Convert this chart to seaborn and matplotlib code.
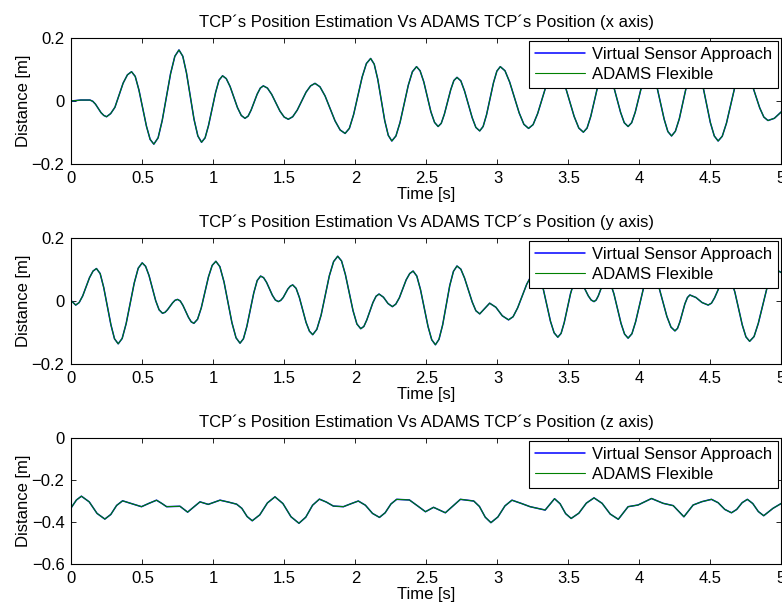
"""
Estimación de la posición del TCP vs posición ADAMS (ejes x, y, z)
"""
import matplotlib
matplotlib.use('Agg')
import matplotlib.pyplot as plt
import seaborn as sns

# Datos (las dos series coinciden a escala de píxel)
# una línea por semiciclo
t_x = [0.0, 0.065, 0.13,
       0.150, 0.169, 0.208, 0.228, 0.247,
       0.276, 0.306, 0.364, 0.394, 0.423,
       0.449, 0.475, 0.528, 0.554, 0.58,
       0.610, 0.639, 0.698, 0.728, 0.757,
       0.784, 0.81, 0.863, 0.890, 0.916,
       0.941, 0.965, 1.015, 1.039, 1.064,
       1.090, 1.117, 1.169, 1.196, 1.222,
       1.244, 1.265, 1.308, 1.330, 1.351,
       1.380, 1.41, 1.468, 1.498, 1.527,
       1.558, 1.59, 1.652, 1.684, 1.715,
       1.750, 1.786, 1.856, 1.892, 1.927,
       1.957, 1.987, 2.047, 2.077, 2.107,
       2.132, 2.157, 2.206, 2.231, 2.256,
       2.285, 2.314, 2.372, 2.401, 2.43,
       2.455, 2.481, 2.531, 2.557, 2.582,
       2.604, 2.626, 2.671, 2.693, 2.715,
       2.742, 2.768, 2.822, 2.848, 2.875,
       2.899, 2.923, 2.972, 2.996, 3.02,
       3.053, 3.086, 3.153, 3.186, 3.219,
       3.251, 3.283, 3.346, 3.378, 3.41,
       3.443, 3.475, 3.54, 3.573, 3.605,
       3.631, 3.657, 3.708, 3.734, 3.76,
       3.787, 3.813, 3.867, 3.893, 3.92,
       3.945, 3.97, 4.02, 4.045, 4.07,
       4.096, 4.122, 4.174, 4.200, 4.226,
       4.253, 4.281, 4.335, 4.363, 4.39,
       4.417, 4.445, 4.499, 4.527, 4.554,
       4.583, 4.613, 4.671, 4.701, 4.73,
       4.759, 4.788, 4.847, 4.876, 4.905,
       4.95, 5.0]
pos_x = [0.0, 0.003, 0.003,
         -0.001, -0.010, -0.037, -0.046, -0.050,
         -0.040, -0.020, 0.057, 0.083, 0.093,
         0.078, 0.035, -0.080, -0.122, -0.137,
         -0.117, -0.062, 0.087, 0.142, 0.162,
         0.142, 0.089, -0.058, -0.111, -0.131,
         -0.117, -0.078, 0.027, 0.066, 0.080,
         0.071, 0.046, -0.021, -0.046, -0.055,
         -0.048, -0.029, 0.022, 0.041, 0.048,
         0.041, 0.021, -0.032, -0.051, -0.058,
         -0.050, -0.029, 0.028, 0.048, 0.056,
         0.045, 0.016, -0.063, -0.092, -0.103,
         -0.087, -0.043, 0.076, 0.119, 0.135,
         0.117, 0.069, -0.062, -0.109, -0.127,
         -0.111, -0.068, 0.050, 0.093, 0.109,
         0.096, 0.061, -0.034, -0.068, -0.081,
         -0.071, -0.042, 0.036, 0.065, 0.075,
         0.064, 0.032, -0.053, -0.084, -0.095,
         -0.081, -0.044, 0.058, 0.095, 0.109,
         0.096, 0.060, -0.038, -0.074, -0.087,
         -0.075, -0.040, 0.053, 0.088, 0.100,
         0.087, 0.050, -0.049, -0.086, -0.099,
         -0.086, -0.049, 0.050, 0.087, 0.100,
         0.088, 0.055, -0.036, -0.069, -0.081,
         -0.069, -0.036, 0.055, 0.088, 0.100,
         0.086, 0.047, -0.058, -0.097, -0.111,
         -0.096, -0.056, 0.055, 0.095, 0.110,
         0.094, 0.051, -0.068, -0.111, -0.127,
         -0.112, -0.070, 0.043, 0.085, 0.100,
         0.089, 0.059, -0.022, -0.051, -0.062,
         -0.055, -0.034]

t_y = [0.0, 0.03,
       0.054, 0.079, 0.127, 0.152, 0.176,
       0.202, 0.227, 0.278, 0.303, 0.329,
       0.357, 0.385, 0.442, 0.470, 0.498,
       0.522, 0.546, 0.593, 0.617, 0.641,
       0.659, 0.676, 0.712, 0.729, 0.747,
       0.766, 0.785, 0.824, 0.843, 0.862,
       0.888, 0.914, 0.965, 0.991, 1.017,
       1.045, 1.074, 1.13, 1.159, 1.187,
       1.211, 1.235, 1.284, 1.308, 1.332,
       1.353, 1.374, 1.415, 1.436, 1.457,
       1.474, 1.491, 1.524, 1.541, 1.558,
       1.582, 1.605, 1.652, 1.676, 1.699,
       1.728, 1.758, 1.816, 1.846, 1.875,
       1.902, 1.929, 1.983, 2.010, 2.037,
       2.059, 2.08, 2.123, 2.145, 2.166,
       2.197, 2.229, 2.26,
       2.284, 2.309, 2.357, 2.382, 2.406,
       2.432, 2.458, 2.511, 2.537, 2.563,
       2.588, 2.614, 2.664, 2.690, 2.715,
       2.742, 2.768, 2.822, 2.848, 2.875,
       2.91, 2.945,
       2.989, 3.034, 3.078,
       3.110, 3.142, 3.206, 3.238, 3.27,
       3.296, 3.322, 3.373, 3.399, 3.425,
       3.448, 3.47, 3.515, 3.538, 3.56,
       3.58, 3.6, 3.64, 3.66, 3.68,
       3.695, 3.71, 3.74, 3.755, 3.77,
       3.795, 3.82, 3.87, 3.895, 3.92,
       3.947, 3.973, 4.027, 4.053, 4.08,
       4.108, 4.137, 4.193, 4.222, 4.25,
       4.268, 4.285, 4.32, 4.338, 4.355,
       4.398, 4.441, 4.484,
       4.507, 4.529, 4.575, 4.597, 4.62,
       4.646, 4.672, 4.724, 4.750, 4.776,
       4.807, 4.837, 4.899, 4.929, 4.96,
       5.0]
pos_y = [0.0, -0.013,
         -0.005, 0.016, 0.074, 0.095, 0.103,
         0.087, 0.043, -0.076, -0.120, -0.136,
         -0.119, -0.072, 0.057, 0.104, 0.121,
         0.110, 0.081, 0.001, -0.028, -0.039,
         -0.036, -0.028, -0.006, 0.002, 0.005,
         0.000, -0.014, -0.052, -0.066, -0.071,
         -0.058, -0.022, 0.077, 0.113, 0.126,
         0.109, 0.061, -0.069, -0.117, -0.134,
         -0.120, -0.081, 0.026, 0.065, 0.079,
         0.074, 0.059, 0.018, 0.003, -0.002,
         0.002, 0.011, 0.038, 0.047, 0.051,
         0.040, 0.011, -0.068, -0.096, -0.107,
         -0.090, -0.045, 0.080, 0.125, 0.142,
         0.127, 0.084, -0.031, -0.073, -0.088,
         -0.081, -0.060, -0.005, 0.015, 0.022,
         0.012, -0.008, -0.018,
         -0.010, 0.010, 0.067, 0.087, 0.095,
         0.079, 0.036, -0.081, -0.123, -0.139,
         -0.122, -0.076, 0.049, 0.094, 0.111,
         0.101, 0.073, -0.003, -0.031, -0.041,
         -0.024, -0.007,
         -0.020, -0.047, -0.060,
         -0.050, -0.022, 0.053, 0.080, 0.090,
         0.076, 0.039, -0.064, -0.101, -0.115,
         -0.103, -0.069, 0.024, 0.058, 0.070,
         0.066, 0.052, 0.016, 0.003, -0.002,
         0.003, 0.016, 0.052, 0.066, 0.070,
         0.057, 0.023, -0.071, -0.105, -0.118,
         -0.104, -0.066, 0.038, 0.076, 0.090,
         0.078, 0.044, -0.049, -0.083, -0.095,
         -0.087, -0.066, -0.009, 0.011, 0.019,
         0.011, -0.005, -0.013,
         -0.007, 0.010, 0.057, 0.074, 0.080,
         0.066, 0.028, -0.076, -0.114, -0.128,
         -0.113, -0.071, 0.043, 0.085, 0.100,
         0.090]

t_z = [0.0, 0.035, 0.07, 0.125, 0.18, 0.235, 0.277, 0.318, 0.36, 0.426,
       0.493, 0.546, 0.599, 0.635, 0.67, 0.764, 0.818, 0.862, 0.905, 0.963,
       1.046, 1.105, 1.163, 1.2, 1.237, 1.273, 1.326, 1.38, 1.433, 1.489,
       1.546, 1.602, 1.65, 1.698, 1.746, 1.795, 1.844, 1.915, 1.968, 2.02,
       2.07, 2.12, 2.169, 2.209, 2.25, 2.29, 2.38, 2.437, 2.493, 2.55,
       2.633, 2.686, 2.739, 2.833, 2.873, 2.914, 2.954, 3.003, 3.053, 3.102,
       3.166, 3.23, 3.336, 3.402, 3.441, 3.48, 3.519, 3.573, 3.626, 3.68,
       3.737, 3.794, 3.851, 3.92, 3.99, 4.085, 4.167, 4.238, 4.313, 4.378,
       4.44, 4.507, 4.554, 4.601, 4.648, 4.685, 4.723, 4.76, 4.798, 4.837,
       4.875, 4.94, 5.0]
pos_z = [-0.330, -0.295, -0.277, -0.304, -0.359, -0.386, -0.364, -0.321, -0.299, -0.313,
         -0.327, -0.311, -0.296, -0.311, -0.327, -0.325, -0.353, -0.328, -0.304, -0.316,
         -0.296, -0.305, -0.315, -0.335, -0.374, -0.394, -0.366, -0.309, -0.280, -0.312,
         -0.375, -0.406, -0.377, -0.320, -0.291, -0.305, -0.324, -0.327, -0.313, -0.300,
         -0.320, -0.359, -0.378, -0.356, -0.314, -0.292, -0.295, -0.323, -0.351, -0.330,
         -0.356, -0.324, -0.292, -0.300, -0.326, -0.377, -0.403, -0.376, -0.323, -0.296,
         -0.311, -0.327, -0.343, -0.289, -0.313, -0.360, -0.383, -0.358, -0.310, -0.285,
         -0.311, -0.362, -0.387, -0.327, -0.319, -0.288, -0.311, -0.322, -0.375, -0.319,
         -0.303, -0.292, -0.308, -0.340, -0.356, -0.340, -0.308, -0.292, -0.312, -0.350,
         -0.370, -0.335, -0.311]

x_ticks = [0, 0.5, 1, 1.5, 2, 2.5, 3, 3.5, 4, 4.5, 5]
x_tick_labels = ['0', '0.5', '1', '1.5', '2', '2.5', '3', '3.5', '4', '4.5', '5']
y_ticks_xy = [-0.2, 0, 0.2]
y_labels_xy = ['\u22120.2', '0', '0.2']
y_ticks_z = [-0.6, -0.4, -0.2, 0]
y_labels_z = ['\u22120.6', '\u22120.4', '\u22120.2', '0']
axis_names = ['x axis', 'y axis', 'z axis']
series_names = ['Virtual Sensor Approach', 'ADAMS Flexible']

# Estilo tipo MATLAB
sns.set_style("ticks")
plt.rcParams['font.family'] = ['Liberation Sans', 'DejaVu Sans']
plt.rcParams['font.size'] = 12
plt.rcParams['text.color'] = 'black'
plt.rcParams['axes.labelcolor'] = 'black'
plt.rcParams['xtick.direction'] = 'in'
plt.rcParams['ytick.direction'] = 'in'
plt.rcParams['xtick.top'] = True
plt.rcParams['ytick.right'] = True
plt.rcParams['axes.linewidth'] = 0.8
plt.rcParams['axes.edgecolor'] = 'black'

fig = plt.figure(figsize=(7.82, 6.04), dpi=100)
bottoms = [0.7285, 0.3974, 0.0662]
panels = [(t_x, pos_x, (-0.2, 0.2), y_ticks_xy, y_labels_xy),
          (t_y, pos_y, (-0.2, 0.2), y_ticks_xy, y_labels_xy),
          (t_z, pos_z, (-0.6, 0.0), y_ticks_z, y_labels_z)]

for i, (t, pos, ylim, yt, ytl) in enumerate(panels):
    ax = fig.add_axes([0.0914, bottoms[i], 0.9079, 0.2086])
    sns.lineplot(x=t, y=pos, ax=ax, color='blue', linewidth=1.1,
                 estimator=None, label=series_names[0])
    sns.lineplot(x=t, y=pos, ax=ax, color='#008000', linewidth=0.8,
                 estimator=None, label=series_names[1])
    ax.set_xlim(0, 5)
    ax.set_ylim(*ylim)
    ax.set_xticks(x_ticks)
    ax.set_xticklabels(x_tick_labels)
    ax.set_yticks(yt)
    ax.set_yticklabels(ytl)
    ax.tick_params(length=3.5, width=0.6, pad=5, labelsize=12, colors='black')
    ax.set_xlabel('Time [s]', labelpad=1)
    ax.set_ylabel('Distance [m]')
    ax.yaxis.set_label_coords(-0.057, 0.5)
    ax.set_title(f'TCP\u00b4s Position Estimation Vs ADAMS TCP\u00b4s Position ({axis_names[i]})',
                 fontsize=12, pad=8)
    ax.legend(loc='upper right', frameon=True, fancybox=False, framealpha=1,
              edgecolor='black', borderaxespad=0.2, borderpad=0.35,
              labelspacing=0.3, handlelength=3.0, handletextpad=0.45, fontsize=12)
    ax.get_legend().get_frame().set_linewidth(0.8)
    for spine in ax.spines.values():
        spine.set_visible(True)

fig.savefig('out.png', dpi=100)
